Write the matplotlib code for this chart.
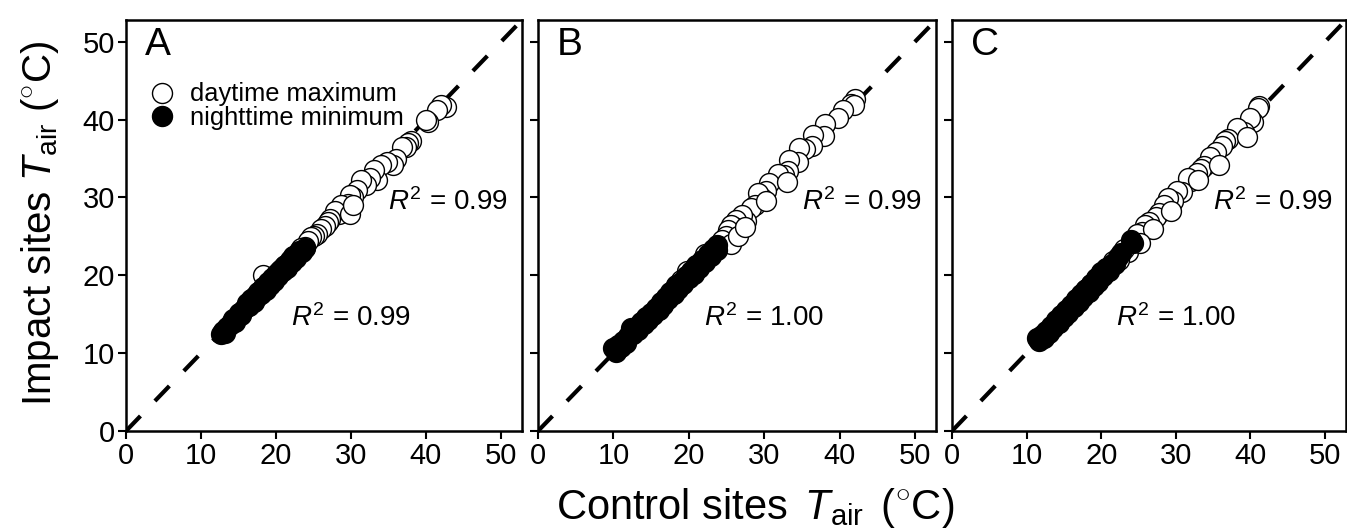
import matplotlib
matplotlib.use("Agg")
import matplotlib.pyplot as plt
from matplotlib.lines import Line2D

plt.rcParams['font.family'] = ['Liberation Sans', 'DejaVu Sans']
plt.rcParams['mathtext.fontset'] = 'custom'
plt.rcParams['mathtext.rm'] = 'Liberation Sans'
plt.rcParams['mathtext.it'] = 'Liberation Sans:italic'
plt.rcParams['mathtext.bf'] = 'Liberation Sans:bold'

# panel A: (control, impact)
a_day_ctrl = [42.6, 42.0, 41.5, 40.3, 40.0, 38.0, 37.6, 37.3, 36.8, 36.0, 35.6, 34.8, 34.0, 33.4,
              33.0, 32.5, 32.0, 31.3, 30.8, 30.2, 29.9, 29.6, 29.0, 28.7, 28.4, 27.8, 27.2, 26.9,
              26.5, 26.0, 25.5, 25.1, 24.6, 24.2, 23.8, 23.3, 22.8, 22.3, 21.6, 21.0, 20.4, 19.8,
              19.2, 18.6, 18.2, 17.6, 29.9, 30.2]
a_day_imp = [41.6, 41.9, 41.3, 39.7, 40.0, 37.3, 37.0, 36.5, 36.5, 35.0, 34.2, 34.6, 34.2, 32.3,
             33.5, 32.5, 31.6, 32.2, 31.0, 30.0, 30.3, 29.1, 28.6, 29.0, 27.9, 28.2, 27.2, 26.8,
             26.3, 25.9, 25.3, 25.0, 24.9, 24.4, 23.6, 23.5, 22.7, 22.5, 21.4, 21.2, 20.6, 19.8,
             19.6, 19.0, 20.1, 17.9, 27.9, 29.0]
a_night_ctrl = [12.6, 12.9, 13.2, 13.5, 13.8, 14.0, 14.3, 14.5, 14.8, 15.0, 15.3, 15.6, 15.9, 16.1,
                16.4, 16.7, 17.0, 17.2, 17.5, 17.8, 18.0, 18.3, 18.6, 18.9, 19.2, 19.4, 19.7, 20.0,
                20.3, 20.6, 20.9, 21.2, 21.5, 21.8, 22.1, 22.4, 22.7, 23.0, 23.4, 23.8]
a_night_imp = [12.4, 12.8, 12.6, 13.3, 13.6, 13.9, 14.4, 14.0, 14.7, 15.2, 14.9, 15.6, 15.8, 16.4,
               16.0, 16.9, 16.6, 17.4, 17.2, 18.0, 17.6, 18.5, 18.1, 19.1, 18.8, 19.6, 19.3, 20.2,
               19.9, 20.8, 20.5, 21.3, 21.0, 22.0, 21.7, 22.5, 22.2, 23.1, 23.0, 23.5]

# panel B
b_day_ctrl = [42.0, 41.5, 41.9, 40.4, 39.8, 38.1, 38.0, 36.5, 36.3, 35.4, 34.6, 34.5, 33.3, 33.1,
              32.6, 31.8, 30.7, 30.3, 29.7, 29.2, 28.8, 28.2, 27.6, 27.0, 26.3, 26.0, 25.6, 25.2,
              24.9, 24.4, 24.0, 23.2, 22.2, 21.4, 20.7, 19.8, 19.0, 18.3, 17.5, 25.6, 26.5, 27.5,
              30.2, 33.0]
b_day_imp = [42.7, 42.0, 41.9, 41.2, 40.2, 39.5, 37.9, 38.0, 36.6, 36.2, 36.3, 34.6, 34.8, 33.4,
             32.9, 33.0, 31.9, 30.8, 29.9, 30.6, 29.0, 28.7, 27.0, 27.8, 27.1, 26.2, 26.5, 25.8,
             25.0, 24.6, 23.8, 23.4, 22.7, 21.5, 21.0, 20.6, 19.4, 18.8, 17.9, 24.0, 25.0, 26.2,
             29.5, 32.0]
b_night_ctrl = [10.0, 10.3, 10.6, 11.0, 11.3, 11.7, 12.0, 12.3, 12.6, 13.0, 13.3, 13.6, 14.0, 14.3,
                14.6, 15.0, 15.3, 15.6, 16.0, 16.3, 16.6, 17.0, 17.3, 17.6, 18.0, 18.3, 18.6, 19.0,
                19.3, 19.7, 20.0, 20.3, 20.7, 21.0, 21.4, 21.8, 22.2, 22.6, 23.0, 23.4, 23.8, 23.8]
b_night_imp = [10.6, 10.2, 11.0, 10.8, 11.5, 11.3, 12.2, 13.2, 12.4, 13.3, 13.0, 14.0, 13.7, 14.6,
               14.2, 15.2, 14.9, 15.8, 15.6, 16.6, 16.2, 17.2, 16.9, 17.9, 17.6, 18.6, 18.2, 19.2,
               18.9, 19.9, 19.6, 20.6, 20.2, 21.3, 21.0, 22.0, 21.7, 22.8, 22.5, 23.4, 23.2, 23.9]

# panel C
c_day_ctrl = [41.2, 41.0, 40.4, 40.0, 39.1, 38.2, 37.0, 36.6, 36.2, 35.4, 34.6, 33.8, 33.4, 32.8,
              32.0, 31.6, 30.8, 30.2, 29.6, 28.9, 28.4, 27.7, 27.3, 26.4, 25.8, 25.4, 24.8, 24.0,
              23.6, 23.0, 22.4, 21.6, 20.8, 20.0, 19.4, 18.6, 17.8, 39.5, 35.8, 33.0, 29.4, 27.0,
              25.2]
c_day_imp = [41.8, 41.5, 39.7, 40.2, 38.4, 38.9, 37.5, 37.3, 36.6, 35.8, 35.2, 34.1, 33.6, 33.1,
             32.1, 32.5, 30.7, 30.8, 29.5, 29.9, 29.0, 28.0, 27.5, 26.8, 26.5, 25.6, 25.3, 24.2,
             23.0, 23.4, 22.0, 21.9, 21.0, 20.4, 19.1, 18.9, 18.1, 37.8, 34.2, 32.2, 28.3, 26.0,
             24.2]
c_night_ctrl = [11.4, 11.6, 12.0, 12.3, 12.6, 13.0, 13.3, 13.6, 14.0, 14.3, 14.6, 15.0, 15.3, 15.6,
                16.0, 16.3, 16.6, 17.0, 17.3, 17.6, 18.0, 18.3, 18.6, 19.0, 19.3, 19.6, 20.0, 20.3,
                20.7, 21.0, 21.4, 21.8, 22.2, 22.6, 24.3, 24.0]
c_night_imp = [11.9, 11.5, 12.3, 12.0, 12.9, 12.6, 13.5, 13.2, 14.2, 13.9, 14.9, 14.6, 15.5, 15.2,
               16.2, 15.9, 16.9, 16.6, 17.6, 17.2, 18.3, 17.9, 18.9, 18.6, 19.6, 19.2, 20.3, 19.9,
               21.0, 20.6, 21.5, 21.5, 22.4, 22.9, 24.2, 24.6]

panel_labels = ['A', 'B', 'C']
r2_day = ['0.99', '0.99', '0.99']
r2_night = ['0.99', '1.00', '1.00']
ticks = [0, 10, 20, 30, 40, 50]
lim = 52.8

panels = [
    (a_day_ctrl, a_day_imp, a_night_ctrl, a_night_imp),
    (b_day_ctrl, b_day_imp, b_night_ctrl, b_night_imp),
    (c_day_ctrl, c_day_imp, c_night_ctrl, c_night_imp),
]

fig = plt.figure(figsize=(13.47, 5.28), dpi=100)
lefts = [126 / 1347, 538 / 1347, 952 / 1347]
widths = [396 / 1347, 398 / 1347, 394 / 1347]
bottom = 1 - 431 / 528
height = 411 / 528

for i, (dc, di, nc, ni) in enumerate(panels):
    ax = fig.add_axes([lefts[i], bottom, widths[i], height])
    ax.plot([0, lim], [0, lim], color='black', lw=3, dashes=(5, 5), zorder=1)
    ax.scatter(dc, di, s=205, facecolor='white', edgecolor='black', linewidth=1, zorder=2)
    ax.scatter(nc, ni, s=205, facecolor='black', edgecolor='black', linewidth=1, zorder=3)
    ax.set_xlim(0, lim)
    ax.set_ylim(0, lim)
    ax.set_xticks(ticks)
    ax.set_yticks(ticks)
    if i > 0:
        ax.set_yticklabels([])
    ax.tick_params(direction='out', length=6, width=1.5, labelsize=21, pad=2)
    for sp in ax.spines.values():
        sp.set_linewidth(1.8)
    ax.text(2.5, 49.6, panel_labels[i], fontsize=28, ha='left', va='center')
    ax.text(35, 29.4, r'$R^2$ = ' + r2_day[i], fontsize=20, ha='left', va='center')
    ax.text(22, 14.5, r'$R^2$ = ' + r2_night[i], fontsize=20, ha='left', va='center')
    if i == 0:
        handles = [
            Line2D([], [], ls='none', marker='o', markersize=14.4, markerfacecolor='white',
                   markeredgecolor='black', markeredgewidth=1),
            Line2D([], [], ls='none', marker='o', markersize=14.4, markerfacecolor='black',
                   markeredgecolor='black', markeredgewidth=1),
        ]
        ax.legend(handles, ['daytime maximum', 'nighttime minimum'], loc='upper left',
                  bbox_to_anchor=(0.058, 0.848), frameon=False, fontsize=18.3, handlelength=1.0,
                  handletextpad=0.6, labelspacing=-0.02, borderaxespad=0, borderpad=0)

fig.text(0.030, 0.576, r'Impact sites $T_{\mathrm{air}}$ ($^{\circ}$C)', fontsize=29,
         rotation=90, ha='center', va='center')
fig.text(0.5605, 0.017, r'Control sites $\,T_{\mathrm{air}}\,$ ($^{\circ}$C)', fontsize=30,
         ha='center', va='baseline')

fig.savefig('out.png', dpi=100)
